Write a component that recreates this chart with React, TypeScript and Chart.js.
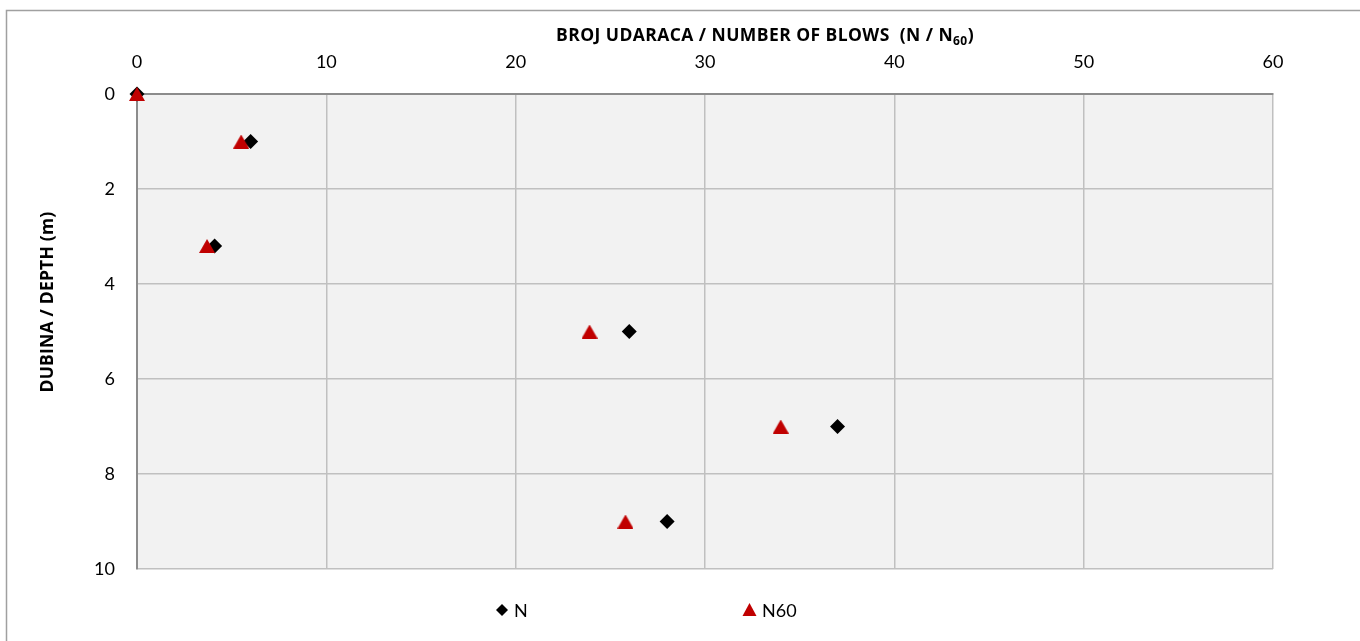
import React, { useEffect, useRef } from "react";
import { Chart, registerables } from "chart.js";

Chart.register(...registerables);

// ---- data ----
const depths = [0, 1, 3.2, 5, 7, 9];
const blowsN = [0, 6, 4.1, 26, 37, 28];
const blowsN60 = [0, 5.5, 3.7, 23.9, 34.0, 25.8];
const xTickValues = [0, 10, 20, 30, 40, 50, 60];
const yTickValues = [0, 2, 4, 6, 8, 10];
const seriesLabels = ["N", "N60"];
const xTitleMain = "BROJ UDARACA / NUMBER OF BLOWS  (N / N";
const xTitleSub = "60";
const xTitleEnd = ")";
const yTitle = "DUBINA / DEPTH (m)";

const FONT = "Lato, 'Open Sans', sans-serif";
const TITLE_FONT = "'Open Sans', Lato, sans-serif";
const N_COLOR = "#000000";
const N60_COLOR = "#c00000";

function makeTriangle(w: number, h: number, color: string) {
  const c = document.createElement("canvas");
  c.width = w;
  c.height = h;
  const g = c.getContext("2d")!;
  g.fillStyle = color;
  g.beginPath();
  g.moveTo(w / 2, 0);
  g.lineTo(w, h);
  g.lineTo(0, h);
  g.closePath();
  g.fill();
  return c;
}

const decorPlugin = {
  id: "decor",
  beforeDraw(chart: any) {
    const { ctx, chartArea: a } = chart;
    ctx.save();
    ctx.fillStyle = "#ffffff";
    ctx.fillRect(0, 0, chart.width, chart.height);
    ctx.fillStyle = "#f2f2f2";
    ctx.fillRect(a.left, a.top, a.right - a.left, a.bottom - a.top);
    ctx.restore();
  },
  afterDraw(chart: any) {
    const { ctx } = chart;
    ctx.save();
    // outer frame (only top and left visible)
    ctx.strokeStyle = "#a0a0a0";
    ctx.lineWidth = 1.5;
    ctx.beginPath();
    ctx.moveTo(6.5, chart.height + 5);
    ctx.lineTo(6.5, 10.5);
    ctx.lineTo(chart.width + 5, 10.5);
    ctx.stroke();

    // x axis title with subscript
    ctx.fillStyle = "#000";
    ctx.textBaseline = "alphabetic";
    ctx.textAlign = "left";
    const mainFont = `bold 17.5px ${TITLE_FONT}`;
    const subFont = `bold 12px ${TITLE_FONT}`;
    ctx.letterSpacing = "0px";
    ctx.font = mainFont;
    const mainW0 = ctx.measureText(xTitleMain).width;
    ctx.font = subFont;
    const subW0 = ctx.measureText(xTitleSub).width;
    ctx.font = mainFont;
    const endW0 = ctx.measureText(xTitleEnd).width;
    const nChars = xTitleMain.length + xTitleSub.length + xTitleEnd.length;
    const targetW = 418;
    const ls = Math.max(0, (targetW - (mainW0 + subW0 + endW0)) / nChars);
    ctx.letterSpacing = `${ls}px`;
    ctx.font = mainFont;
    const mainW = ctx.measureText(xTitleMain).width;
    ctx.font = subFont;
    const subW = ctx.measureText(xTitleSub).width;
    ctx.font = mainFont;
    const endW = ctx.measureText(xTitleEnd).width;
    const x0 = 765 - (mainW + subW + endW) / 2;
    const base = 41;
    ctx.fillText(xTitleMain, x0, base);
    ctx.font = subFont;
    ctx.fillText(xTitleSub, x0 + mainW, base + 4);
    ctx.font = mainFont;
    ctx.fillText(xTitleEnd, x0 + mainW + subW, base);

    // y axis title
    ctx.save();
    ctx.letterSpacing = "0px";
    ctx.font = mainFont;
    const yW0 = ctx.measureText(yTitle).width;
    const yls = Math.max(0, (181 - yW0) / yTitle.length);
    ctx.letterSpacing = `${yls}px`;
    const yW = ctx.measureText(yTitle).width;
    ctx.translate(48, 302);
    ctx.rotate(-Math.PI / 2);
    ctx.textAlign = "left";
    ctx.textBaseline = "middle";
    ctx.fillText(yTitle, -yW / 2, 0);
    ctx.restore();

    // legend
    ctx.letterSpacing = "0px";
    const ly = 610;
    ctx.font = `18px ${FONT}`;
    ctx.textBaseline = "middle";
    ctx.textAlign = "left";
    // N diamond
    const dx = 502;
    ctx.fillStyle = N_COLOR;
    ctx.beginPath();
    ctx.moveTo(dx - 6, ly);
    ctx.lineTo(dx, ly - 6);
    ctx.lineTo(dx + 6, ly);
    ctx.lineTo(dx, ly + 6);
    ctx.closePath();
    ctx.fill();
    ctx.fillText(seriesLabels[0], 514, ly + 1);
    // N60 triangle
    const tx = 749.5;
    ctx.fillStyle = N60_COLOR;
    ctx.beginPath();
    ctx.moveTo(tx, ly - 7);
    ctx.lineTo(tx + 7, ly + 6);
    ctx.lineTo(tx - 7, ly + 6);
    ctx.closePath();
    ctx.fill();
    ctx.fillStyle = "#000";
    ctx.fillText(seriesLabels[1], 762, ly + 1);
    ctx.restore();
  },
};

export default function App() {
  const ref = useRef<HTMLCanvasElement | null>(null);
  useEffect(() => {
    if (!ref.current) return;
    const tri = makeTriangle(16, 14, N60_COLOR);
    const chart = new Chart(ref.current, {
      type: "scatter",
      data: {
        datasets: [
          {
            label: seriesLabels[0],
            data: depths.map((d, i) => ({ x: blowsN[i], y: d })),
            pointStyle: "rectRot",
            pointRadius: 7.5,
            pointBackgroundColor: N_COLOR,
            pointBorderWidth: 0,
            order: 2,
            clip: false,
          } as any,
          {
            label: seriesLabels[1],
            data: depths.map((d, i) => ({ x: blowsN60[i], y: d })),
            pointStyle: tri,
            pointRadius: 8,
            pointBackgroundColor: N60_COLOR,
            pointBorderWidth: 0,
            order: 1,
            clip: false,
          } as any,
        ],
      },
      options: {
        responsive: false,
        animation: false,
        layout: { padding: { left: 0, top: 0, right: 87, bottom: 72 } },
        plugins: {
          legend: { display: false },
          tooltip: { enabled: false },
        },
        scales: {
          x: {
            type: "linear",
            position: "top",
            min: 0,
            max: 60,
            afterBuildTicks: (s: any) => {
              s.ticks = xTickValues.map((v) => ({ value: v }));
            },
            afterFit: (s: any) => {
              s.height = 94;
            },
            grid: { color: "#c0c0c0", lineWidth: 1.5, drawTicks: false },
            border: { color: "#8c8c8c", width: 2 },
            ticks: {
              font: { family: FONT, size: 18 },
              color: "#000",
              padding: 21,
              maxRotation: 0,
            },
          },
          y: {
            type: "linear",
            reverse: true,
            min: 0,
            max: 10,
            afterBuildTicks: (s: any) => {
              s.ticks = yTickValues.map((v) => ({ value: v }));
            },
            afterFit: (s: any) => {
              s.width = 137;
            },
            grid: { color: "#c0c0c0", lineWidth: 1.5, drawTicks: false },
            border: { color: "#8c8c8c", width: 2 },
            ticks: {
              font: { family: FONT, size: 18 },
              color: "#000",
              padding: 22,
            },
          },
        },
      } as any,
      plugins: [decorPlugin],
    });
    return () => chart.destroy();
  }, []);
  return (
    <div style={{ position: "fixed", left: 0, top: 0, width: 1360, height: 641 }}>
      <canvas ref={ref} width={1360} height={641} style={{ display: "block" }} />
    </div>
  );
}
